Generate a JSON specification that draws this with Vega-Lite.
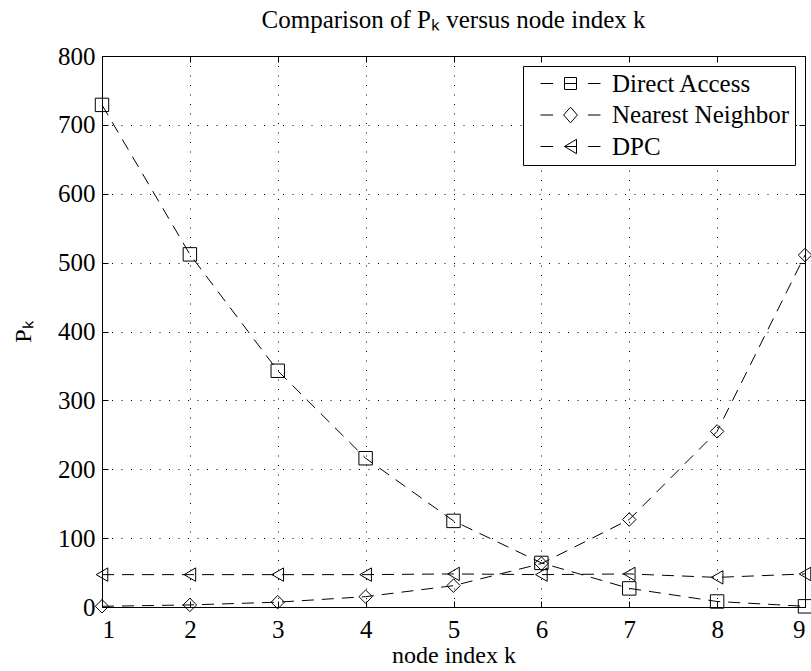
{
  "$schema": "https://vega.github.io/schema/vega-lite/v6.json",
  "autosize": {"type": "none"},
  "padding": {"left": 102, "top": 56, "right": 6, "bottom": 64},
  "width": 703,
  "height": 551,
  "background": "white",
  "title": {
    "text": "Comparison of Pₖ versus node index k",
    "font": "Liberation Serif",
    "fontSize": 25,
    "fontWeight": "normal",
    "color": "black",
    "anchor": "middle",
    "offset": 11
  },
  "config": {
    "view": {"stroke": "black", "strokeWidth": 1},
    "axis": {
      "labelFont": "Liberation Serif",
      "titleFont": "Liberation Serif",
      "labelFontSize": 25,
      "titleFontSize": 24,
      "titleFontWeight": "normal",
      "labelColor": "black",
      "titleColor": "black",
      "domainColor": "black",
      "tickColor": "black",
      "gridColor": "black",
      "gridOpacity": 1,
      "gridDash": [1, 8.5],
      "gridWidth": 1
    }
  },
  "data": {
    "values": [
      {"series": "Direct Access", "k": 1, "P": 729},
      {"series": "Direct Access", "k": 2, "P": 512},
      {"series": "Direct Access", "k": 3, "P": 343},
      {"series": "Direct Access", "k": 4, "P": 216},
      {"series": "Direct Access", "k": 5, "P": 125},
      {"series": "Direct Access", "k": 6, "P": 64},
      {"series": "Direct Access", "k": 7, "P": 27},
      {"series": "Direct Access", "k": 8, "P": 8},
      {"series": "Direct Access", "k": 9, "P": 1},
      {"series": "Nearest Neighbor", "k": 1, "P": 1},
      {"series": "Nearest Neighbor", "k": 2, "P": 3},
      {"series": "Nearest Neighbor", "k": 3, "P": 7},
      {"series": "Nearest Neighbor", "k": 4, "P": 15},
      {"series": "Nearest Neighbor", "k": 5, "P": 31},
      {"series": "Nearest Neighbor", "k": 6, "P": 63},
      {"series": "Nearest Neighbor", "k": 7, "P": 127},
      {"series": "Nearest Neighbor", "k": 8, "P": 255},
      {"series": "Nearest Neighbor", "k": 9, "P": 511},
      {"series": "DPC", "k": 1, "P": 47},
      {"series": "DPC", "k": 2, "P": 47},
      {"series": "DPC", "k": 3, "P": 47},
      {"series": "DPC", "k": 4, "P": 47},
      {"series": "DPC", "k": 5, "P": 48},
      {"series": "DPC", "k": 6, "P": 47},
      {"series": "DPC", "k": 7, "P": 48},
      {"series": "DPC", "k": 8, "P": 43},
      {"series": "DPC", "k": 9, "P": 48}
    ]
  },
  "layer": [
    {
      "mark": {"type": "line", "color": "black", "strokeWidth": 1, "strokeDash": [12, 8]},
      "encoding": {
        "x": {
          "field": "k", "type": "quantitative",
          "scale": {"domain": [1, 9], "nice": false, "zero": false},
          "axis": {"orient": "bottom", "title": "node index k", "values": [1,2,3,4,5,6,7,8,9], "tickSize": -6, "labelPadding": 16, "titlePadding": 1, "grid": true}
        },
        "y": {
          "field": "P", "type": "quantitative",
          "scale": {"domain": [0, 800], "nice": false},
          "axis": {"orient": "left", "title": "Pₖ", "values": [0,100,200,300,400,500,600,700,800], "tickSize": -6, "labelPadding": 13, "titlePadding": 22, "grid": true}
        },
        "detail": {"field": "series"}
      }
    },
    {
      "mark": {"type": "point", "filled": false, "color": "black", "strokeWidth": 1, "opacity": 1, "size": 180},
      "encoding": {
        "x": {
          "field": "k", "type": "quantitative",
          "axis": {"orient": "top", "title": null, "labels": false, "grid": false, "values": [1,2,3,4,5,6,7,8,9], "tickSize": -6}
        },
        "y": {
          "field": "P", "type": "quantitative",
          "axis": {"orient": "right", "title": null, "labels": false, "grid": false, "values": [0,100,200,300,400,500,600,700,800], "tickSize": -6}
        },
        "shape": {
          "field": "series", "type": "nominal",
          "scale": {"domain": ["Direct Access", "Nearest Neighbor", "DPC"], "range": ["square", "diamond", "triangle-left"]},
          "legend": null
        }
      }
    },
    {
      "transform": [{"filter": "false"}],
      "mark": {"type": "point", "filled": false, "color": "black", "strokeWidth": 1, "opacity": 1},
      "encoding": {
        "shape": {
          "field": "series", "type": "nominal",
          "scale": {
            "domain": ["Direct Access", "Nearest Neighbor", "DPC"],
            "range": [
              "M-5,0H-2.9M-1,-1H1V1H-1ZM-1,0H1M2.9,0H5",
              "M-5,0H-2.9M-1.15,0L0,-1.3L1.15,0L0,1.3ZM2.9,0H5",
              "M-5,0H-2.9M-1,0L1,-1.2V1.2ZM-1,0H1M2.9,0H5"
            ]
          },
          "legend": {
            "title": null,
            "orient": "top-right",
            "offset": 10,
            "padding": 5,
            "strokeColor": "black",
            "fillColor": "white",
            "cornerRadius": 0,
            "labelFont": "Liberation Serif",
            "labelFontSize": 25,
            "labelColor": "black",
            "labelLimit": 0,
            "symbolSize": 144,
            "symbolOffset": 30,
            "labelOffset": 29,
            "rowPadding": 5.5,
            "symbolStrokeColor": "black",
            "symbolFillColor": "transparent",
            "symbolStrokeWidth": 1,
            "symbolOpacity": 1
          }
        }
      }
    }
  ],
  "resolve": {"axis": {"x": "independent", "y": "independent"}, "scale": {"shape": "independent"}}
}
